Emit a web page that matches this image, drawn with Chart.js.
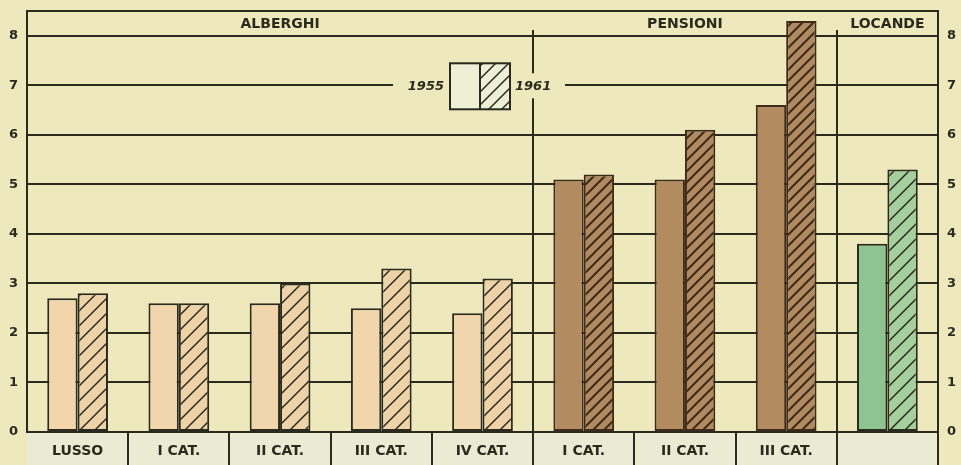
<!DOCTYPE html>
<html>
<head>
<meta charset="utf-8">
<script src="https://cdn.jsdelivr.net/npm/chart.js@4.4.1/dist/chart.umd.min.js"></script>
<style>
  html, body { margin: 0; padding: 0; background: #ede9bd; }
  #wrap { width: 961px; height: 465px; }
</style>
</head>
<body>
<div id="wrap"><canvas id="chart" width="961" height="465"></canvas></div>
<script>
/* ---------- data ---------- */
const categories = ["LUSSO", "I CAT.", "II CAT.", "III CAT.", "IV CAT.", "I CAT.", "II CAT.", "III CAT.", ""];
const groupOf    = [0, 0, 0, 0, 0, 1, 1, 1, 2];
const groupNames = ["ALBERGHI", "PENSIONI", "LOCANDE"];
const years      = ["1955", "1961"];
const v1955      = [2.7, 2.6, 2.6, 2.5, 2.4, 5.1, 5.1, 6.6, 3.8];
const v1961      = [2.8, 2.6, 3.0, 3.3, 3.1, 5.2, 6.1, 8.3, 5.3];
const yTicks     = [0, 1, 2, 3, 4, 5, 6, 7, 8];

/* ---------- style ---------- */
const INK = "#2b2a1f";
const PAPER = "#ede9bd";
const CELL = "#e9ebd2";
const FONT = "'DejaVu Sans', sans-serif";

const solid = ["#f1d5ac", "#b38b61", "#8dc48f"];
const hatchBg = ["#eed3a9", "#b08a60", "#a6cf9e"];
const hatchInk = [INK, "#3e2a18", INK];
const hatchGap = [15, 11, 15];
const borderCol = [INK, "#3e2a18", INK];

function hatch(bg, ink, size, lw) {
    const c = document.createElement("canvas");
    c.width = size; c.height = size;
    const g = c.getContext("2d");
    g.fillStyle = bg;
    g.fillRect(0, 0, size, size);
    g.strokeStyle = ink;
    g.lineWidth = lw;
    g.beginPath();
    g.moveTo(-1, size + 1); g.lineTo(size + 1, -1);
    g.moveTo(-size / 2 - 1, size / 2 + 1); g.lineTo(size / 2 + 1, -size / 2 - 1);
    g.moveTo(size / 2 - 1, size * 1.5 + 1); g.lineTo(size * 1.5 + 1, size / 2 - 1);
    g.stroke();
    return g.createPattern(c, "repeat");
}

const patterns = [0, 1, 2].map(i => hatch(hatchBg[i], hatchInk[i], hatchGap[i], i === 1 ? 2 : 1.5));
const legendPattern = hatch("#eef0d6", INK, 13, 1.5);

/* ---------- decorations ---------- */
const frame = {
    id: "frame",
    beforeDraw(chart) {
        const ctx = chart.ctx;
        ctx.save();
        ctx.fillStyle = PAPER;
        ctx.fillRect(0, 0, chart.width, chart.height);
        // label band cells
        const a = chart.chartArea;
        ctx.fillStyle = CELL;
        ctx.fillRect(a.left, a.bottom, a.right - a.left, chart.height - a.bottom);
        ctx.restore();
    },
    beforeDatasetsDraw(chart) {
        const ctx = chart.ctx, a = chart.chartArea, x = chart.scales.x;
        const half = (x.getPixelForValue(1) - x.getPixelForValue(0)) / 2;
        ctx.save();
        ctx.strokeStyle = INK;
        ctx.lineWidth = 2;
        // group dividers
        [4, 7].forEach(i => {
            const px = Math.round(x.getPixelForValue(i) + half);
            ctx.beginPath();
            ctx.moveTo(px, a.top + 19);
            ctx.lineTo(px, a.bottom);
            ctx.stroke();
        });
        ctx.restore();
    },
    afterDraw(chart) {
        const ctx = chart.ctx, a = chart.chartArea, x = chart.scales.x;
        const half = (x.getPixelForValue(1) - x.getPixelForValue(0)) / 2;
        ctx.save();
        ctx.strokeStyle = INK;
        ctx.lineWidth = 2;
        // frame top
        ctx.beginPath();
        ctx.moveTo(a.left, a.top);
        ctx.lineTo(a.right, a.top);
        ctx.stroke();
        // label cells
        categories.forEach((c, i) => {
            const px = Math.round(x.getPixelForValue(i) + half);
            ctx.beginPath();
            ctx.moveTo(px, a.bottom);
            ctx.lineTo(px, chart.height);
            ctx.stroke();
        });

        // group headers
        ctx.fillStyle = INK;
        ctx.font = "bold 14px " + FONT;
        ctx.textAlign = "center";
        ctx.textBaseline = "middle";
        const spans = [[0, 4], [5, 7], [8, 8]];
        spans.forEach((s, g) => {
            const l = x.getPixelForValue(s[0]) - half;
            const r = x.getPixelForValue(s[1]) + half;
            ctx.fillText(groupNames[g], (l + r) / 2, a.top + 13);
        });

        // legend
        const y7 = chart.scales.y.getPixelForValue(7);
        const cx = 480;
        ctx.fillStyle = PAPER;
        ctx.fillRect(cx - 87, y7 - 12, 172, 25);
        ctx.fillStyle = "#eef0d6";
        ctx.fillRect(cx - 30, y7 - 22, 30, 46);
        ctx.fillStyle = legendPattern;
        ctx.fillRect(cx, y7 - 22, 30, 46);
        ctx.strokeRect(cx - 30, y7 - 22, 60, 46);
        ctx.beginPath();
        ctx.moveTo(cx, y7 - 22);
        ctx.lineTo(cx, y7 + 24);
        ctx.stroke();
        ctx.fillStyle = INK;
        ctx.font = "italic bold 13px " + FONT;
        ctx.textAlign = "right";
        ctx.fillText(years[0], cx - 36, y7 + 1);
        ctx.textAlign = "left";
        ctx.fillText(years[1], cx + 35, y7 + 1);
        ctx.restore();
    }
};

/* ---------- chart ---------- */
const tickFont = { family: FONT, size: 13, weight: "bold" };

new Chart(document.getElementById("chart"), {
    type: "bar",
    data: {
        labels: categories,
        datasets: [
            {
                label: years[0],
                data: v1955,
                backgroundColor: groupOf.map(g => solid[g]),
                borderColor: groupOf.map(g => borderCol[g]),
                borderWidth: 2,
                borderSkipped: false
            },
            {
                label: years[1],
                data: v1961,
                backgroundColor: groupOf.map(g => patterns[g]),
                borderColor: groupOf.map(g => borderCol[g]),
                borderWidth: 2,
                borderSkipped: false
            }
        ]
    },
    options: {
        responsive: false,
        animation: false,
        layout: { padding: { top: 11, left: 0, right: 0, bottom: 0 } },
        categoryPercentage: 0.6,
        barPercentage: 1.0,
        plugins: { legend: { display: false }, tooltip: { enabled: false } },
        scales: {
            x: {
                offset: true,
                grid: { display: false },
                border: { display: true, color: INK, width: 2 },
                ticks: { color: INK, font: { family: FONT, size: 14, weight: "bold" }, padding: 3, maxRotation: 0, autoSkip: false },
                afterFit: s => { s.height = 33; s.paddingLeft = 0; s.paddingRight = 0; }
            },
            y: {
                position: "left",
                min: 0, max: 8.5,
                afterBuildTicks: s => { s.ticks = yTicks.map(v => ({ value: v })); },
                grid: { color: INK, lineWidth: 2, drawTicks: false },
                border: { display: true, color: INK, width: 2 },
                ticks: { color: INK, font: tickFont, padding: 9 },
                afterFit: s => { s.width = 27; s.paddingTop = 0; s.paddingBottom = 0; }
            },
            y2: {
                position: "right",
                min: 0, max: 8.5,
                afterBuildTicks: s => { s.ticks = yTicks.map(v => ({ value: v })); },
                grid: { display: false, drawTicks: false },
                border: { display: true, color: INK, width: 2 },
                ticks: { color: INK, font: tickFont, padding: 9 },
                afterFit: s => { s.width = 23; s.paddingTop = 0; s.paddingBottom = 0; }
            }
        }
    },
    plugins: [frame]
});
</script>
</body>
</html>
